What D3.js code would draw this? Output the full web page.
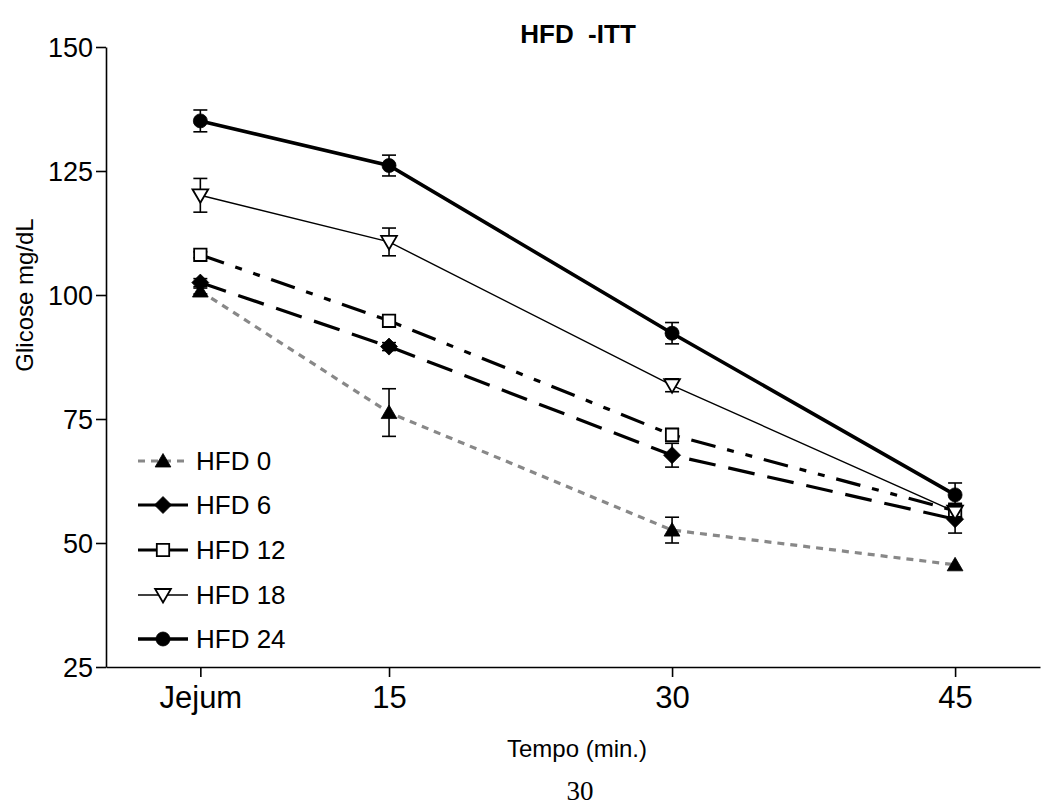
<!DOCTYPE html>
<html>
<head>
<meta charset="utf-8">
<script src="https://cdn.jsdelivr.net/npm/d3@7"></script>
<style>
  body { margin: 0; background: #fff; }
  svg { display: block; }
  text { font-family: "Liberation Sans", Arial, sans-serif; fill: #000; }
</style>
</head>
<body>
<svg id="chart" width="1043" height="807"></svg>
<script>
// Time points (minutes; fasting "Jejum" sits before the 15 min reading)
const timeLabels = ["Jejum", "15", "30", "45"];
const timeValues = [5, 15, 30, 45];

// Blood glucose (mg/dL) means and SEM per group
const seriesNames = ["HFD 0", "HFD 6", "HFD 12", "HFD 18", "HFD 24"];
const hfd0  = [100.8, 76.3, 52.6, 45.6];
const hfd0Err  = [0.6, 4.8, 2.6, 0.0];
const hfd6  = [102.5, 89.6, 67.7, 54.8];
const hfd6Err  = [0.8, 0.8, 2.4, 2.8];
const hfd12 = [108.1, 94.8, 71.8, 56.5];
const hfd12Err = [0.6, 0.6, 1.3, 1.5];
const hfd18 = [120.1, 110.7, 81.8, 56.3];
const hfd18Err = [3.4, 2.8, 1.3, 1.0];
const hfd24 = [135.1, 126.1, 92.3, 59.7];
const hfd24Err = [2.2, 2.1, 2.15, 2.4];

const yTicks = [25, 50, 75, 100, 125, 150];

const svg = d3.select("#chart");

const x = d3.scaleLinear().domain([0, 49.5]).range([106, 1040]);
const y = d3.scaleLinear().domain([25, 150]).range([667, 47]);

// marker shapes, r = half size
const shapes = {
  triUp: r => `M0,${-r}L${r * 1.05},${r * 0.8}L${-r * 1.05},${r * 0.8}Z`,
  triDown: r => `M0,${r}L${r * 1.05},${-r * 0.8}L${-r * 1.05},${-r * 0.8}Z`,
  diamond: r => `M0,${-r}L${r},0L0,${r}L${-r},0Z`,
  square: r => `M${-r},${-r}H${r}V${r}H${-r}Z`,
  circle: r => `M${r},0A${r},${r} 0 1,1 ${-r},0A${r},${r} 0 1,1 ${r},0Z`
};

const series = [
  { name: seriesNames[0], vals: hfd0, err: hfd0Err, color: "#888", width: 3.2, dash: "7,6", shape: "triUp", r: 7.5, fill: "#000", legendDash: "7,6" },
  { name: seriesNames[1], vals: hfd6, err: hfd6Err, color: "#000", width: 3.2, dash: "27,13", shape: "diamond", r: 8.5, fill: "#000", legendDash: null },
  { name: seriesNames[2], vals: hfd12, err: hfd12Err, color: "#000", width: 3.2, dash: "25,12,7,12,7,12", shape: "square", r: 6.2, fill: "#fff", legendDash: null },
  { name: seriesNames[3], vals: hfd18, err: hfd18Err, color: "#000", width: 1.4, dash: null, shape: "triDown", r: 7.5, fill: "#fff", legendDash: null },
  { name: seriesNames[4], vals: hfd24, err: hfd24Err, color: "#000", width: 3.6, dash: null, shape: "circle", r: 7, fill: "#000", legendDash: null }
];

// axes
const yAxis = d3.axisLeft(y).tickValues(yTicks).tickSize(10).tickSizeOuter(0).tickPadding(3);
const gy = svg.append("g").attr("transform", `translate(${x(0)},0)`).call(yAxis);
gy.selectAll("path, line").attr("stroke", "#000").attr("stroke-width", 1.6);
gy.selectAll("text").style("font-size", "27px").attr("dy", "0.36em");

const xAxis = d3.axisBottom(x).tickValues(timeValues)
  .tickFormat((d, i) => timeLabels[i]).tickSize(10).tickSizeOuter(0).tickPadding(9);
const gx = svg.append("g").attr("transform", `translate(0,${y(25)})`).call(xAxis);
gx.selectAll("path, line").attr("stroke", "#000").attr("stroke-width", 1.6);
gx.selectAll("text").style("font-size", "31px").attr("dy", "0.7em");

// lines
const line = d3.line().x((d, i) => x(timeValues[i])).y(d => y(d));
series.forEach(s => {
  svg.append("path").datum(s.vals)
    .attr("d", line)
    .attr("fill", "none")
    .attr("stroke", s.color)
    .attr("stroke-width", s.width)
    .attr("stroke-dasharray", s.dash);
});

// error bars and markers
const cap = 7;
series.forEach(s => {
  const g = svg.append("g");
  s.vals.forEach((v, i) => {
    const cx = x(timeValues[i]);
    const e = s.err[i];
    if (e > 0) {
      const y1 = y(v + e), y2 = y(v - e);
      g.append("line").attr("x1", cx).attr("x2", cx).attr("y1", y1).attr("y2", y2)
        .attr("stroke", "#000").attr("stroke-width", 1.6);
      [y1, y2].forEach(yy => g.append("line").attr("x1", cx - cap).attr("x2", cx + cap)
        .attr("y1", yy).attr("y2", yy).attr("stroke", "#000").attr("stroke-width", 1.6));
    }
    g.append("path").attr("d", shapes[s.shape](s.r))
      .attr("transform", `translate(${cx},${y(v)})`)
      .attr("fill", s.fill)
      .attr("stroke", "#000")
      .attr("stroke-width", s.fill === "#fff" ? 1.8 : 0.8);
  });
});

// legend
const legendY = [461, 505, 550, 595, 639];
series.forEach((s, i) => {
  const g = svg.append("g").attr("transform", `translate(0,${legendY[i]})`);
  g.append("line").attr("x1", 138).attr("x2", 188).attr("y1", 0).attr("y2", 0)
    .attr("stroke", s.color).attr("stroke-width", s.width)
    .attr("stroke-dasharray", s.legendDash);
  g.append("path").attr("d", shapes[s.shape](s.r))
    .attr("transform", "translate(163,0)")
    .attr("fill", s.fill).attr("stroke", "#000")
    .attr("stroke-width", s.fill === "#fff" ? 1.8 : 0.8);
  g.append("text").attr("x", 196).attr("y", 0).attr("dy", "0.36em")
    .style("font-size", "26px").text(s.name);
});

// titles
svg.append("text").attr("x", 578).attr("y", 43).attr("text-anchor", "middle")
  .style("font-size", "26px").style("font-weight", "bold")
  .style("white-space", "pre").text("HFD  -ITT");
svg.append("text").attr("transform", `translate(33,${y(100)}) rotate(-90)`)
  .attr("text-anchor", "middle").style("font-size", "24px").text("Glicose mg/dL");
svg.append("text").attr("x", 577).attr("y", 757).attr("text-anchor", "middle")
  .style("font-size", "24px").text("Tempo (min.)");
svg.append("text").attr("x", 580).attr("y", 800).attr("text-anchor", "middle")
  .style("font-family", "'Liberation Serif', 'Times New Roman', serif")
  .style("font-size", "27px").text("30");
</script>
</body>
</html>
